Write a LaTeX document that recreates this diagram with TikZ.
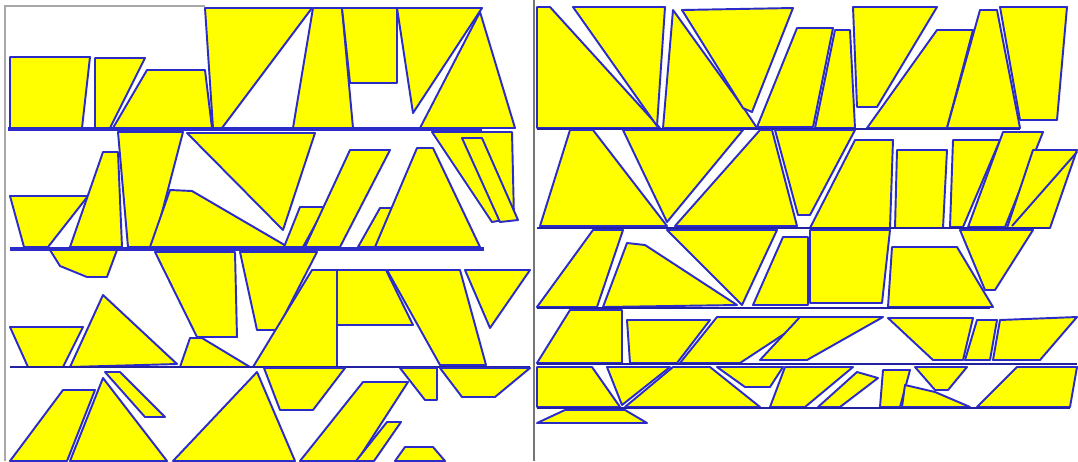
\documentclass[tikz,border=0pt]{standalone}
\usepackage{xcolor}
\definecolor{piecefill}{HTML}{FFFF00}
\definecolor{pieceedge}{HTML}{2B2BC8}
\definecolor{framegrey}{HTML}{A8A8A8}
\usepackage{tikz}
\begin{document}
\begin{tikzpicture}[x=0.02cm, y=-0.02cm,
    piece/.style={fill=piecefill, draw=pieceedge, line width=1.1pt, line join=round},
    rowline/.style={draw=pieceedge, line width=2pt},
    thinrow/.style={draw=pieceedge!80!black, line width=1pt}]
  \useasboundingbox (0,0) rectangle (1078,461);
  \fill[white] (0,0) rectangle (1078,461);
  % frames of the two panels
  \draw[framegrey, line width=1.2pt] (5,461) -- (5,6) -- (205,6);
  \draw[framegrey!70!black, line width=1.2pt] (534,0) -- (534,461);

  % ---- left panel, row 1
  \draw[piece] (10,57) -- (90,57) -- (82,128) -- (10,128) -- cycle;
  \draw[piece] (95,58) -- (145,58) -- (110,128) -- (95,128) -- cycle;
  \draw[piece] (147,70) -- (205,70) -- (212,128) -- (113,128) -- cycle;
  \draw[piece] (205,8) -- (312,8) -- (222,128) -- (213,128) -- cycle;
  \draw[piece] (313,8) -- (342,8) -- (353,128) -- (293,128) -- cycle;
  \draw[piece] (342,8) -- (397,8) -- (397,83) -- (350,83) -- cycle;
  \draw[piece] (397,8) -- (482,8) -- (413,113) -- cycle;
  \draw[piece] (480,12) -- (515,128) -- (420,128) -- cycle;
  \draw[rowline] (8,129) -- (482,129);

  % ---- left panel, row 2
  \draw[piece] (10,196) -- (88,196) -- (48,247) -- (24,247) -- cycle;
  \draw[piece] (103,152) -- (118,152) -- (122,247) -- (70,247) -- cycle;
  \draw[piece] (118,132) -- (183,132) -- (153,247) -- (128,247) -- cycle;
  \draw[piece] (187,133) -- (315,133) -- (283,230) -- cycle;
  \draw[piece] (170,190) -- (192,191) -- (288,247) -- (150,247) -- cycle;
  \draw[piece] (300,207) -- (325,207) -- (303,247) -- (284,247) -- cycle;
  \draw[piece] (350,150) -- (390,150) -- (340,247) -- (305,247) -- cycle;
  \draw[piece] (380,208) -- (398,208) -- (378,247) -- (358,247) -- cycle;
  \draw[piece] (417,148) -- (433,148) -- (480,247) -- (375,247) -- cycle;
  \draw[piece] (432,132) -- (512,132) -- (514,218) -- (492,222) -- cycle;
  \draw[piece] (462,138) -- (482,138) -- (518,220) -- (500,222) -- cycle;
  \draw[rowline] (10,249) -- (484,249);

  % ---- left panel, row 3
  \draw[piece] (50,250) -- (117,250) -- (107,277) -- (87,277) -- (60,266) -- cycle;
  \draw[piece] (10,327) -- (83,327) -- (63,367) -- (28,367) -- cycle;
  \draw[piece] (103,295) -- (177,364) -- (70,367) -- cycle;
  \draw[piece] (155,252) -- (235,252) -- (237,337) -- (197,337) -- cycle;
  \draw[piece] (240,252) -- (317,252) -- (277,330) -- (257,330) -- cycle;
  \draw[piece] (190,338) -- (202,338) -- (250,367) -- (180,367) -- cycle;
  \draw[piece] (312,270) -- (337,270) -- (337,367) -- (253,367) -- cycle;
  \draw[piece] (337,270) -- (386,270) -- (413,325) -- (337,325) -- cycle;
  \draw[piece] (387,270) -- (460,270) -- (486,365) -- (440,365) -- cycle;
  \draw[piece] (465,270) -- (530,270) -- (490,328) -- cycle;
  \draw[thinrow] (10,367) -- (530,367);

  % ---- left panel, row 4
  \draw[piece] (105,372) -- (120,372) -- (165,417) -- (145,417) -- cycle;
  \draw[piece] (63,390) -- (95,390) -- (67,461) -- (10,461) -- cycle;
  \draw[piece] (103,378) -- (167,461) -- (70,461) -- cycle;
  \draw[piece] (257,372) -- (295,461) -- (173,461) -- cycle;
  \draw[piece] (264,368) -- (345,368) -- (313,410) -- (280,410) -- cycle;
  \draw[piece] (363,382) -- (408,382) -- (357,461) -- (300,461) -- cycle;
  \draw[piece] (387,422) -- (401,422) -- (374,461) -- (356,461) -- cycle;
  \draw[piece] (400,368) -- (437,368) -- (437,400) -- (425,400) -- cycle;
  \draw[piece] (440,368) -- (530,368) -- (495,397) -- (462,397) -- cycle;
  \draw[piece] (405,447) -- (433,447) -- (445,461) -- (395,461) -- cycle;

  % ---- right panel, row 1
  \draw[piece] (537,7) -- (550,7) -- (660,128) -- (537,128) -- cycle;
  \draw[piece] (573,7) -- (665,7) -- (657,126) -- cycle;
  \draw[piece] (673,10) -- (745,110) -- (757,128) -- (663,128) -- cycle;
  \draw[piece] (682,10) -- (793,8) -- (752,112) -- (743,108) -- cycle;
  \draw[piece] (797,28) -- (833,28) -- (813,127) -- (757,127) -- cycle;
  \draw[piece] (835,30) -- (850,30) -- (855,128) -- (815,128) -- cycle;
  \draw[piece] (853,7) -- (937,7) -- (877,107) -- (857,107) -- cycle;
  \draw[piece] (937,30) -- (973,30) -- (947,128) -- (867,128) -- cycle;
  \draw[piece] (980,10) -- (997,10) -- (1020,128) -- (947,128) -- cycle;
  \draw[piece] (1000,7) -- (1067,7) -- (1057,120) -- (1020,120) -- cycle;
  \draw[thinrow] (537,129) -- (1020,129);

  % ---- right panel, row 2
  \draw[piece] (570,130) -- (593,130) -- (667,226) -- (540,226) -- cycle;
  \draw[piece] (623,130) -- (743,130) -- (667,222) -- cycle;
  \draw[piece] (760,130) -- (772,130) -- (797,226) -- (675,226) -- cycle;
  \draw[piece] (775,130) -- (855,130) -- (810,215) -- (798,215) -- cycle;
  \draw[piece] (855,140) -- (893,140) -- (890,228) -- (810,228) -- cycle;
  \draw[piece] (897,150) -- (947,150) -- (943,228) -- (895,228) -- cycle;
  \draw[piece] (953,140) -- (1000,140) -- (963,227) -- (950,227) -- cycle;
  \draw[piece] (1003,132) -- (1043,132) -- (1005,227) -- (968,227) -- cycle;
  \draw[piece] (1033,150) -- (1077,150) -- (1050,228) -- (1007,228) -- cycle;
  \draw[piece] (1077,152) -- (1012,226);
  \draw[thinrow] (537,228) -- (1050,228);

  % ---- right panel, row 3
  \draw[piece] (593,230) -- (623,230) -- (597,307) -- (537,307) -- cycle;
  \draw[piece] (627,243) -- (645,245) -- (737,305) -- (603,307) -- cycle;
  \draw[piece] (667,230) -- (777,230) -- (742,305) -- cycle;
  \draw[piece] (783,237) -- (808,237) -- (808,305) -- (753,305) -- cycle;
  \draw[piece] (810,230) -- (890,230) -- (882,303) -- (810,303) -- cycle;
  \draw[piece] (892,247) -- (957,247) -- (993,307) -- (888,307) -- cycle;
  \draw[piece] (960,230) -- (1033,230) -- (995,290) -- (985,290) -- cycle;
  \draw[thinrow] (537,308) -- (990,308);

  % ---- right panel, row 4
  \draw[piece] (570,310) -- (622,310) -- (622,363) -- (537,363) -- cycle;
  \draw[piece] (627,320) -- (710,320) -- (677,363) -- (630,363) -- cycle;
  \draw[piece] (717,317) -- (810,317) -- (740,363) -- (680,363) -- cycle;
  \draw[piece] (800,317) -- (883,317) -- (807,360) -- (760,360) -- cycle;
  \draw[piece] (888,318) -- (973,318) -- (963,360) -- (933,360) -- cycle;
  \draw[piece] (977,320) -- (997,320) -- (990,360) -- (965,360) -- cycle;
  \draw[piece] (1000,320) -- (1077,317) -- (1040,360) -- (993,360) -- cycle;
  \draw[thinrow] (537,364) -- (1077,364);

  % ---- right panel, row 5
  \draw[piece] (537,367) -- (592,367) -- (620,407) -- (537,407) -- cycle;
  \draw[piece] (607,367) -- (670,367) -- (622,405) -- cycle;
  \draw[piece] (673,367) -- (710,367) -- (760,407) -- (625,407) -- cycle;
  \draw[piece] (717,367) -- (783,367) -- (770,387) -- (745,387) -- cycle;
  \draw[piece] (785,367) -- (853,367) -- (805,407) -- (770,407) -- cycle;
  \draw[piece] (857,372) -- (878,378) -- (840,407) -- (818,407) -- cycle;
  \draw[piece] (883,370) -- (910,370) -- (900,407) -- (880,407) -- cycle;
  \draw[piece] (915,367) -- (967,367) -- (948,390) -- (935,390) -- cycle;
  \draw[piece] (905,385) -- (935,392) -- (970,407) -- (902,407) -- cycle;
  \draw[piece] (1017,367) -- (1077,367) -- (1070,407) -- (977,407) -- cycle;
  \draw[thinrow] (537,408) -- (1070,408);
  \draw[piece] (565,410) -- (625,410) -- (647,423) -- (537,423) -- cycle;
\end{tikzpicture}
\end{document}
